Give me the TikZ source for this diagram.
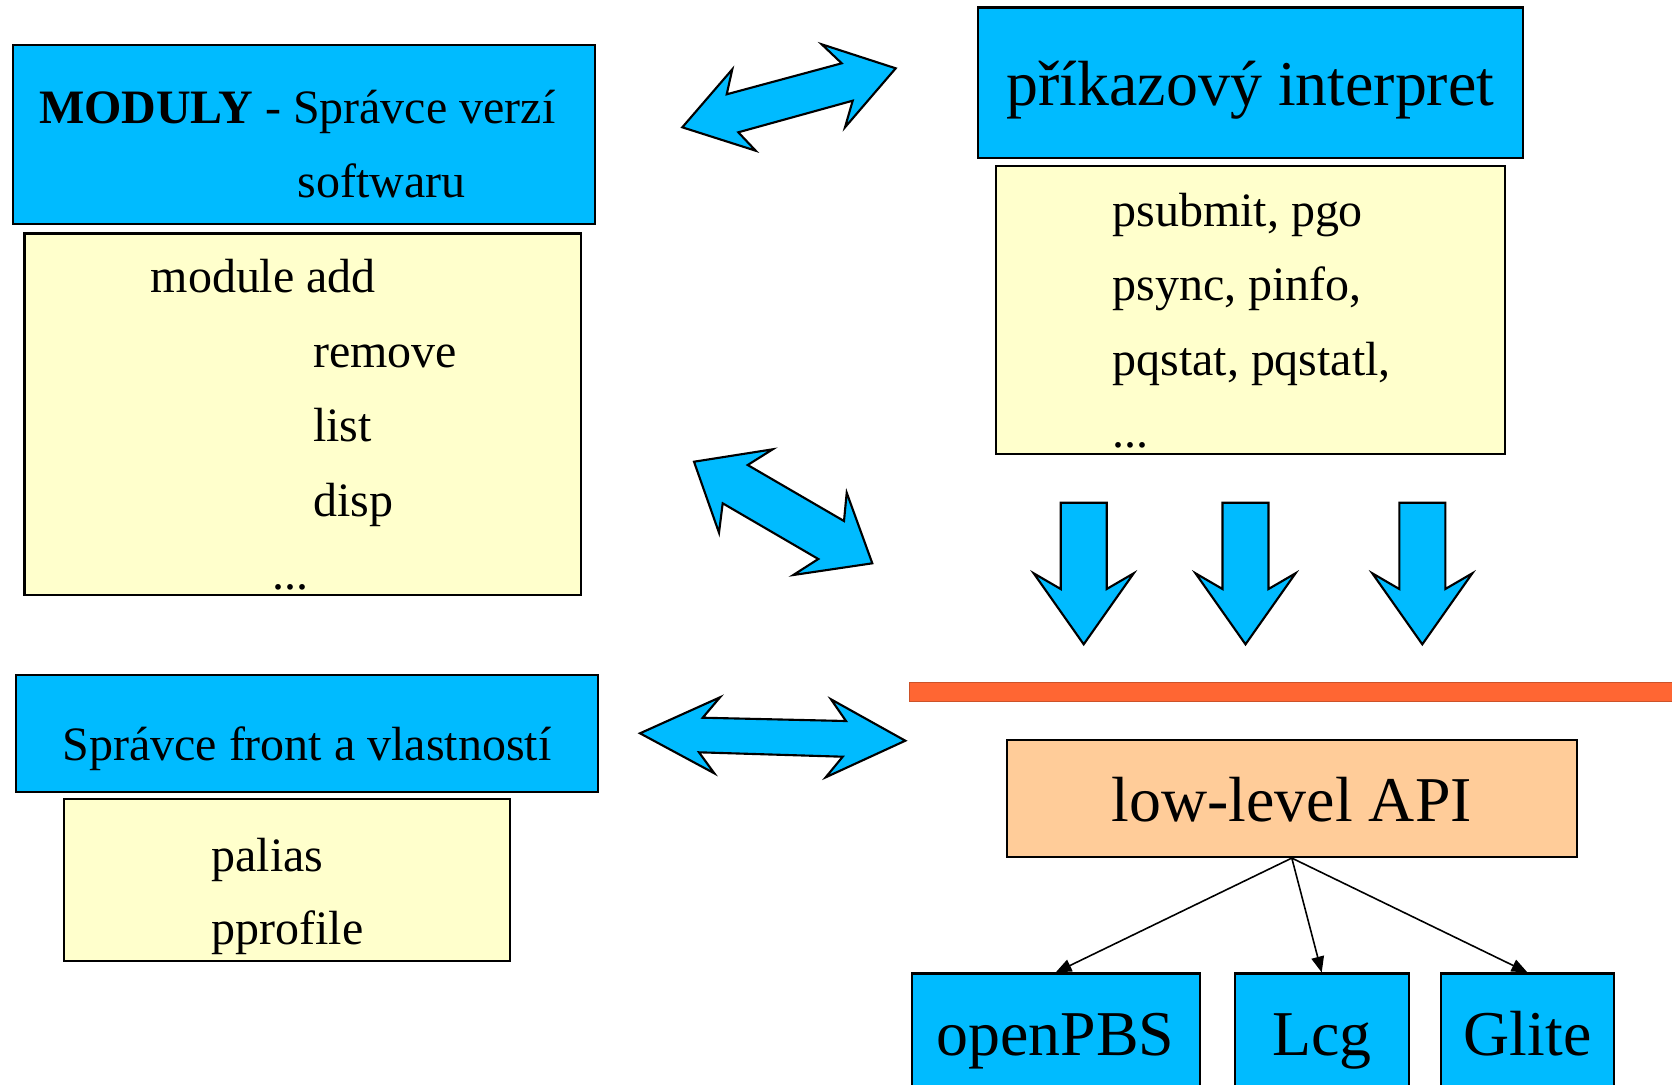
\documentclass[tikz,border=0pt]{standalone}
\usepackage{fontspec}
\setmainfont{Liberation Serif}
\usetikzlibrary{fit,arrows.meta}
\definecolor{skyb}{RGB}{0,187,255}
\definecolor{pale}{RGB}{255,255,204}
\definecolor{orbar}{RGB}{255,102,51}
\definecolor{peach}{RGB}{255,204,153}
\tikzset{
  bluebox/.style={draw=black, fill=skyb, line width=0.6pt, inner sep=0pt},
  palebox/.style={draw=black, fill=pale, line width=0.6pt, inner sep=0pt},
  apibox/.style={draw=black, fill=peach, line width=0.6pt, inner sep=0pt},
  barbox/.style={draw=orbar!80!black, fill=orbar, line width=0.5pt, inner sep=0pt},
  bigarrow/.style={draw=black, fill=skyb, line width=0.6pt, line join=miter},
  small/.style={inner sep=0pt, anchor=base west, font=\fontsize{13.6}{16}\selectfont},
  large/.style={inner sep=0pt, anchor=base, font=\fontsize{18.1}{22}\selectfont},
  conn/.style={draw=black, line width=0.45pt, -{Triangle[length=4.5pt,width=3.6pt]}}
}
\begin{document}
\begin{tikzpicture}[x=0.28349pt, y=-0.28349pt]
\useasboundingbox (0,0) rectangle (1672,1084);
\fill[white] (0,0) rectangle (1672,1084);
\clip (0,0) rectangle (1672,1084);

% left column
\node[bluebox, fit={(13,45) (595,224)}] (moduly) {};
\node[small] (m1) at (38.3,123.3) {\textbf{MODULY} - Správce verzí};
\node[small] (m2) at (297,197.5) {softwaru};

\node[palebox, fit={(24.5,233.5) (581,595)}] (modlist) {};
\node[small] (l1) at (150,292.5) {module add};
\node[small] (l2) at (312.4,367) {remove};
\node[small] (l3) at (312.4,441.5) {list};
\node[small] (l4) at (312.4,516) {disp};
\node[small] (l5) at (272,589) {...};

\node[bluebox, fit={(16,675) (598,792)}] (fronty) {};
\node[small] (f1) at (61.8,760.7) {Správce front a vlastností};

\node[palebox, fit={(64,798.7) (509.7,960.7)}] (frlist) {};
\node[small] (p1) at (211,871.7) {palias};
\node[small] (p2) at (211,944.2) {pprofile};

% right column
\node[bluebox, fit={(978,7.5) (1523,158)}] (interp) {};
\node[large] (i1) at (1250.5,105.5) {příkazový interpret};

\node[palebox, fit={(996,166) (1505,454)}] (cmdlist) {};
\node[small] (c1) at (1111.7,226.3) {psubmit, pgo};
\node[small] (c2) at (1111.7,300.8) {psync, pinfo,};
\node[small] (c3) at (1111.7,375.3) {pqstat, pqstatl,};
\node[small] (c4) at (1111.7,447) {...};

\foreach \cx in {1083.7,1245.5,1422.3}{
  \draw[bigarrow] (\cx-23,502.7) -- (\cx+23,502.7) -- (\cx+23,589) -- (\cx+50,573.3)
     -- (\cx,644.3) -- (\cx-50,573.3) -- (\cx-23,589) -- cycle;
}

\node[barbox, fit={(909.5,682.5) (1675,701.6)}] (bar) {};

\node[apibox, fit={(1006.6,740) (1577,857)}] (api) {};
\node[large] (a1) at (1291.8,821) {low-level API};

\node[bluebox, fit={(911.7,973.5) (1199.6,1100)}] (opbs) {};
\node[bluebox, fit={(1234.8,973.5) (1408.6,1100)}] (lcg) {};
\node[bluebox, fit={(1440.6,973.5) (1614.4,1100)}] (glite) {};
\node[large] (o1) at (1055.6,1055.6) {openPBS};
\node[large] (o2) at (1321.7,1055.6) {Lcg};
\node[large] (o3) at (1527.5,1055.6) {Glite};

\draw[conn] (api.south) -- (opbs.north);
\draw[conn] (api.south) -- (lcg.north);
\draw[conn] (api.south) -- (glite.north);

% double arrows
\draw[bigarrow] (682.3,127.3) -- (732.3,69.3) -- (726.7,94.3) -- (841.7,63.3) -- (821.7,44.3)
  -- (895.7,68.3) -- (845,127.3) -- (852.7,100.7) -- (738.3,132.3) -- (755.7,150.7) -- cycle;
\draw[bigarrow] (694,461.7) -- (772.7,449.3) -- (747.7,465) -- (844,521) -- (846.7,492.7)
  -- (872.3,563.3) -- (793.3,575) -- (818.3,559) -- (722.7,503.3) -- (719,532.7) -- cycle;
\draw[bigarrow] (640,733.3) -- (720,697.3) -- (702.7,717.7) -- (846,721) -- (831,699.3)
  -- (905.3,740.7) -- (825.7,777.3) -- (842.7,756.7) -- (699,752.3) -- (714.3,773.3) -- cycle;
\end{tikzpicture}
\end{document}
